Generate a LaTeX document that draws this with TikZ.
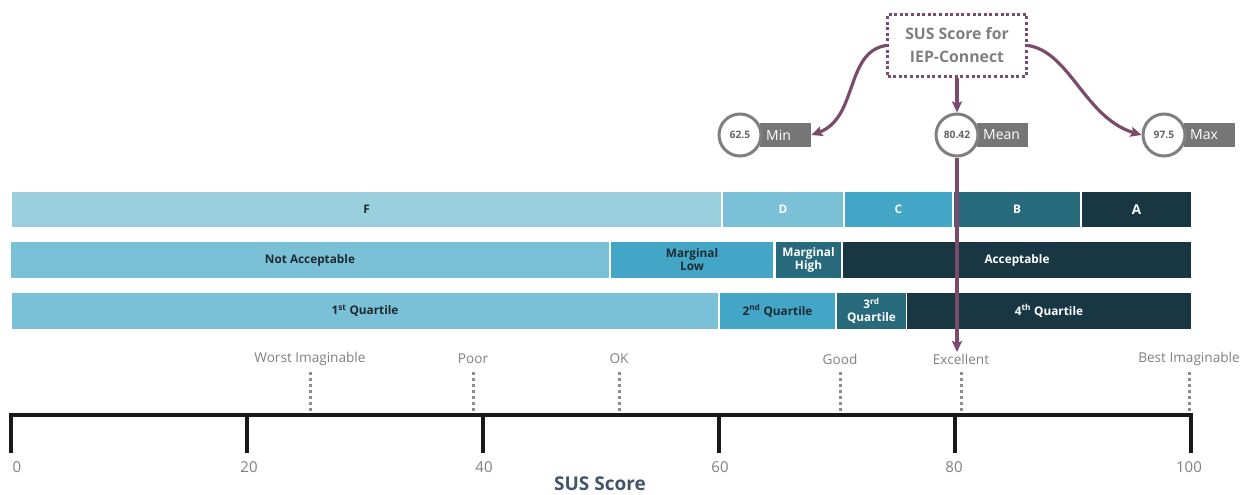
\documentclass[tikz,border=0pt]{standalone}
\usepackage{fontspec}
\setmainfont{Open Sans}
\usetikzlibrary{arrows.meta}
\definecolor{plum}{HTML}{7B4B6B}
\definecolor{tagc}{HTML}{767676}
\definecolor{ringc}{HTML}{7F7F7F}
\definecolor{lblc}{HTML}{808080}
\definecolor{titlec}{HTML}{44546A}
\definecolor{cF}{HTML}{9AD0DE}
\definecolor{cL}{HTML}{7AC0D6}
\definecolor{cM}{HTML}{43A6C6}
\definecolor{cD}{HTML}{276A7C}
\definecolor{cX}{HTML}{183743}
\definecolor{inkc}{HTML}{1E2A30}
\tikzset{
  bar/.style={inner sep=0pt, align=center, font=\bfseries\fontsize{11.8}{13}\selectfont},
  darkt/.style={text=inkc},
  lightt/.style={text=white},
  ring/.style={circle, draw=ringc, line width=3pt, fill=white, minimum size=42pt, inner sep=0pt,
    text=ringc!80!black, font=\bfseries\fontsize{10.3}{10}\selectfont},
  tag/.style={anchor=west, fill=tagc, text=white, minimum height=24pt, inner ysep=0pt,
    inner xsep=6pt, text width=39pt, align=left, font=\fontsize{14}{14}\selectfont},
  link/.style={draw=plum, line width=3.2pt, -{Stealth[length=11pt,width=10pt,inset=2pt]}},
  axisline/.style={line width=3.6pt, black!90},
  dotline/.style={draw=lblc!90, line width=3pt, dash pattern=on 3pt off 3pt},
  scalelab/.style={text=lblc, font=\fontsize{13.6}{13.6}\selectfont},
  ticklab/.style={text=lblc, font=\fontsize{15}{15}\selectfont},
}
\begin{document}
\begin{tikzpicture}[x=1pt,y=-1pt]
\useasboundingbox (0,0) rectangle (1251,495);

% grade band
\node[bar,darkt, fill=cF, minimum width=709pt, minimum height=35pt] (gF) at (366.5,209.5) {F};
\node[bar,lightt,fill=cL, minimum width=120pt, minimum height=35pt] (gD) at (783,209.5) {D};
\node[bar,lightt,fill=cM, minimum width=107pt, minimum height=35pt] (gC) at (898.5,209.5) {C};
\node[bar,lightt,fill=cD, minimum width=126pt, minimum height=35pt] (gB) at (1017,209.5) {B};
\node[bar,lightt,fill=cX, minimum width=109pt, minimum height=35pt] (gA) at (1136.5,209.5) {\fontsize{13.5}{13}\selectfont A};

% acceptability band
\node[bar,darkt, fill=cL, minimum width=598pt, minimum height=36pt] (aN) at (310,260) {Not Acceptable};
\node[bar,darkt, fill=cM, minimum width=162pt, minimum height=36pt] (aL) at (692,260) {Marginal\\Low};
\node[bar,lightt,fill=cD, minimum width=65pt,  minimum height=36pt] (aH) at (808.5,260) {Marginal\\High};
\node[bar,lightt,fill=cX, minimum width=348pt, minimum height=36pt] (aA) at (1017,260) {Acceptable};

% quartile band
\node[bar,darkt, fill=cL, minimum width=706pt, minimum height=36pt] (q1) at (365,311) {1\textsuperscript{st} Quartile};
\node[bar,darkt, fill=cM, minimum width=115pt, minimum height=36pt] (q2) at (777.5,311) {2\textsuperscript{nd} Quartile};
\node[bar,lightt,fill=cD, minimum width=69pt,  minimum height=36pt] (q3) at (871.5,311) {3\textsuperscript{rd}\\Quartile};
\node[bar,lightt,fill=cX, minimum width=284pt, minimum height=36pt] (q4) at (1049,311) {4\textsuperscript{th} Quartile};

% score axis
\draw[axisline, line join=miter] (11,453) -- (11,415) -- (1191,415) -- (1191,453);
\foreach \v in {20,40,60,80}
  \draw[axisline] ({11+11.8*\v},415) -- ({11+11.8*\v},453);
\foreach \v/\lx in {0/17,20/249,40/484,60/720,80/954,100/1189}
  \node[ticklab] (n\v) at (\lx,467) {\v};
\node[text=titlec, font=\bfseries\fontsize{19}{19}\selectfont] (axtitle) at (600,484) {SUS Score};

% adjective scale
\foreach \nm/\px/\txt in {w/310/Worst Imaginable, p/473/Poor, o/619/OK, g/840/Good, e/961/Excellent, b/1189/Best Imaginable}{
  \draw[dotline] (\px,372) -- (\px,413);
  \node[scalelab] (s\nm) at (\px,359) {\txt};
}

% summary of the observed scores
\node[draw=plum, line width=3pt, dash pattern=on 3pt off 2.6pt, minimum width=139pt, minimum height=62pt,
  align=center, text=ringc, font=\bfseries\fontsize{15.8}{23}\selectfont] (sus) at (957,45.5)
  {SUS Score for\\IEP-Connect};

\node[tag] (tmin) at (760,135) {Min};
\node[ring] (cmin) at (740,135) {62.5};
\node[tag] (tmean) at (977,135) {Mean};
\node[ring] (cmean) at (957,135) {80.42};
\node[tag] (tmax) at (1184,135) {Max};
\node[ring] (cmax) at (1164,135) {97.5};

\coordinate (mtip) at (957,352);
\draw[link] (sus.west) .. controls (845,52) and (858,118) .. (tmin.east);
\draw[link] (sus.east) .. controls (1070,52) and (1085,118) .. (cmax.west);
\draw[link] (sus.south) -- (cmean.north);
\draw[link] (cmean.south) -- (mtip);
\end{tikzpicture}
\end{document}
